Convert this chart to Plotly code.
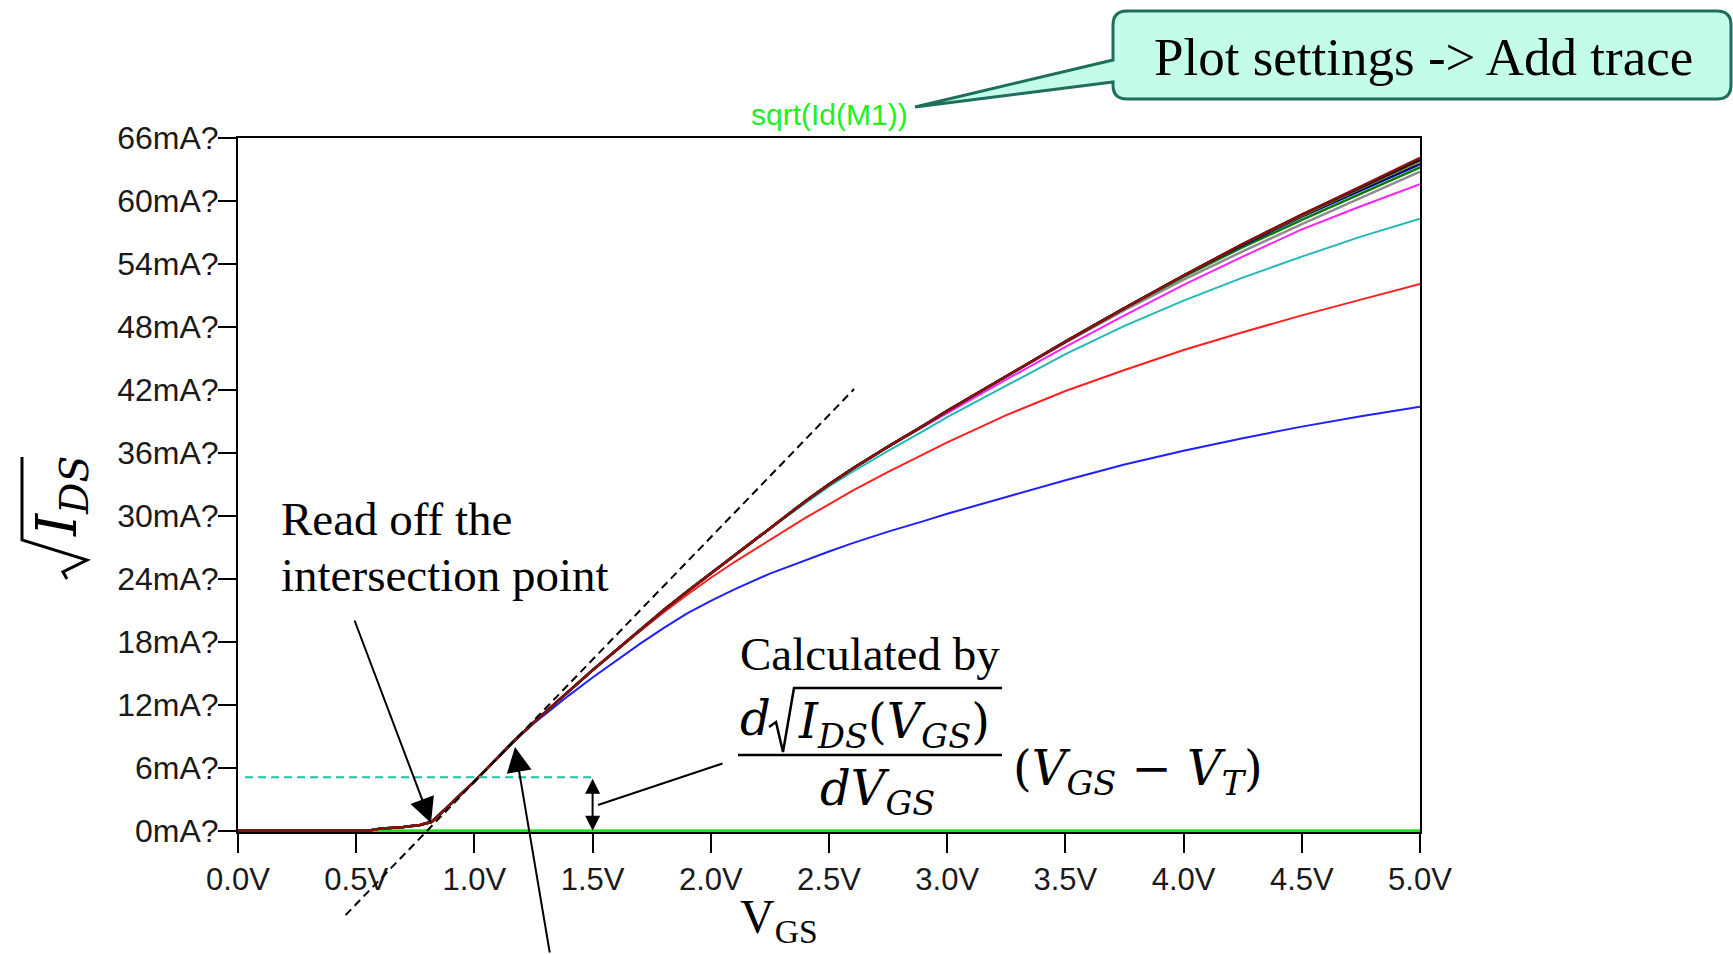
import plotly.graph_objects as go

# ---------------- data ----------------
vgs = [0.00, 0.55, 0.60, 0.70, 0.77, 0.82, 1.00, 1.10, 1.17, 1.25, 1.30, 1.40, 1.50,
       1.60, 1.70, 1.80, 1.90, 2.00, 2.10, 2.25, 2.40, 2.50, 2.60, 2.75, 2.90, 3.00,
       3.25, 3.50, 3.75, 4.00, 4.25, 4.50, 4.75, 5.00]

sqrt_id_vds_0p0 = [0, 0, 0, 0, 0, 0, 0, 0, 0, 0, 0, 0, 0,
                   0, 0, 0, 0, 0, 0, 0, 0, 0, 0, 0, 0, 0,
                   0, 0, 0, 0, 0, 0, 0, 0]
sqrt_id_vds_0p5 = [0, 0, 0.2, 0.35, 0.55, 0.85, 4.7, 7.0, 8.6, 10.2, 11.1, 12.9, 14.6,
                   16.2, 17.8, 19.3, 20.7, 21.9, 23.0, 24.5, 25.8, 26.6, 27.4, 28.5, 29.5, 30.2,
                   31.8, 33.4, 34.9, 36.2, 37.4, 38.5, 39.5, 40.4]
sqrt_id_vds_1p0 = [0, 0, 0.2, 0.35, 0.55, 0.85, 4.7, 7.0, 8.6, 10.3, 11.3, 13.3, 15.3,
                   17.2, 19.0, 20.8, 22.5, 24.1, 25.6, 27.7, 29.8, 31.1, 32.4, 34.2, 35.9, 37.0,
                   39.6, 41.9, 43.9, 45.8, 47.5, 49.1, 50.6, 52.1]
sqrt_id_vds_1p5 = [0, 0, 0.2, 0.35, 0.55, 0.85, 4.7, 7.0, 8.6, 10.3, 11.3, 13.3, 15.3,
                   17.2, 19.1, 21.0, 22.8, 24.5, 26.2, 28.8, 31.2, 32.8, 34.2, 36.2, 38.1, 39.4,
                   42.4, 45.4, 48.1, 50.5, 52.7, 54.7, 56.6, 58.3]
sqrt_id_vds_2p0 = [0, 0, 0.2, 0.35, 0.55, 0.85, 4.7, 7.0, 8.6, 10.3, 11.3, 13.3, 15.3,
                   17.2, 19.1, 21.0, 22.8, 24.5, 26.2, 28.8, 31.4, 33.0, 34.5, 36.6, 38.5, 39.8,
                   43.0, 46.1, 49.1, 52.0, 54.7, 57.3, 59.5, 61.6]
sqrt_id_vds_2p5 = [0, 0, 0.2, 0.35, 0.55, 0.85, 4.7, 7.0, 8.6, 10.3, 11.3, 13.3, 15.3,
                   17.2, 19.1, 21.0, 22.8, 24.5, 26.2, 28.8, 31.4, 33.0, 34.5, 36.6, 38.6, 40.0,
                   43.3, 46.5, 49.6, 52.5, 55.2, 57.8, 60.3, 62.8]
sqrt_id_vds_3p0 = [0, 0, 0.2, 0.35, 0.55, 0.85, 4.7, 7.0, 8.6, 10.3, 11.3, 13.3, 15.3,
                   17.2, 19.1, 21.0, 22.8, 24.5, 26.2, 28.8, 31.4, 33.0, 34.5, 36.6, 38.6, 40.0,
                   43.3, 46.6, 49.8, 52.8, 55.6, 58.2, 60.7, 63.2]
sqrt_id_vds_3p5 = [0, 0, 0.2, 0.35, 0.55, 0.85, 4.7, 7.0, 8.6, 10.3, 11.3, 13.3, 15.3,
                   17.2, 19.1, 21.0, 22.8, 24.5, 26.2, 28.8, 31.4, 33.0, 34.5, 36.6, 38.6, 40.0,
                   43.3, 46.6, 49.8, 52.9, 55.8, 58.5, 61.0, 63.5]
sqrt_id_vds_4p0 = [0, 0, 0.2, 0.35, 0.55, 0.85, 4.7, 7.0, 8.6, 10.3, 11.3, 13.3, 15.3,
                   17.2, 19.1, 21.0, 22.8, 24.5, 26.2, 28.8, 31.4, 33.0, 34.5, 36.6, 38.6, 40.0,
                   43.3, 46.6, 49.8, 52.9, 55.9, 58.6, 61.2, 63.8]
sqrt_id_vds_4p5 = [0, 0, 0.2, 0.35, 0.55, 0.85, 4.7, 7.0, 8.6, 10.3, 11.3, 13.3, 15.3,
                   17.2, 19.1, 21.0, 22.8, 24.5, 26.2, 28.8, 31.4, 33.0, 34.5, 36.6, 38.6, 40.0,
                   43.3, 46.6, 49.8, 52.9, 55.9, 58.7, 61.3, 63.95]
sqrt_id_vds_5p0 = [0, 0, 0.2, 0.35, 0.55, 0.85, 4.7, 7.0, 8.6, 10.3, 11.3, 13.3, 15.3,
                   17.2, 19.1, 21.0, 22.8, 24.5, 26.2, 28.8, 31.4, 33.0, 34.5, 36.6, 38.6, 40.0,
                   43.3, 46.6, 49.8, 52.9, 55.9, 58.7, 61.4, 64.1]

series_names = ["Vds=0.0", "Vds=0.5", "Vds=1.0", "Vds=1.5", "Vds=2.0", "Vds=2.5",
                "Vds=3.0", "Vds=3.5", "Vds=4.0", "Vds=4.5", "Vds=5.0"]
series_values = [sqrt_id_vds_0p0, sqrt_id_vds_0p5, sqrt_id_vds_1p0, sqrt_id_vds_1p5,
                 sqrt_id_vds_2p0, sqrt_id_vds_2p5, sqrt_id_vds_3p0, sqrt_id_vds_3p5,
                 sqrt_id_vds_4p0, sqrt_id_vds_4p5, sqrt_id_vds_5p0]

x_tick_vals = [0.0, 0.5, 1.0, 1.5, 2.0, 2.5, 3.0, 3.5, 4.0, 4.5, 5.0]
x_tick_text = ["0.0V", "0.5V", "1.0V", "1.5V", "2.0V", "2.5V", "3.0V", "3.5V", "4.0V", "4.5V", "5.0V"]
y_tick_vals = [0, 6, 12, 18, 24, 30, 36, 42, 48, 54, 60, 66]
y_tick_text = ["0mA?", "6mA?", "12mA?", "18mA?", "24mA?", "30mA?", "36mA?", "42mA?",
               "48mA?", "54mA?", "60mA?", "66mA?"]

VT = 0.80             # V
TANGENT_SLOPE = 23.3  # mA per V
tangent_v = [0.455, 2.606]
level_ref = 5.1       # mA, dashed level at VGS = 1.5 V
level_v = [0.03, 1.5]

# ---------------- styling ----------------
colors = ["#1ee61e", "#2020ff", "#ff2020", "#20b8b8", "#ff20ff", "#8c8c8c",
          "#007a00", "#000090", "#7a7a00", "#101010", "#8a1010"]
widths = [3, 2, 2, 2, 2, 2.5, 2.5, 2.5, 2.5, 2.5, 2.5]

W, H = 1733, 954
L, R, T, B = 238, 313, 138, 122
PW = W - L - R
PH = H - T - B
XR = [0, 5]
YR = [-0.12, 66]


def px(x):
    return (x - L) / PW


def py(y):
    return (H - B - y) / PH


def dx(v):
    return (v - XR[0]) / (XR[1] - XR[0])


def dy(i):
    return (i - YR[0]) / (YR[1] - YR[0])


fig = go.Figure()
for name, vals, col, w in zip(series_names, series_values, colors, widths):
    fig.add_trace(go.Scatter(x=vgs, y=vals, mode="lines", name=name,
                             line=dict(color=col, width=w), hoverinfo="skip"))

serif = "Liberation Serif"
math = "DejaVu Serif"

shapes = []
# dashed level line
shapes.append(dict(type="line", xref="x", yref="y", x0=level_v[0], x1=level_v[1],
                   y0=level_ref, y1=level_ref,
                   line=dict(color="#20c0a0", width=2, dash="8px,5px")))
# tangent line (extends outside plot area -> paper coords)
tv0, tv1 = tangent_v
ti0 = TANGENT_SLOPE * (tv0 - VT)
ti1 = TANGENT_SLOPE * (tv1 - VT)
shapes.append(dict(type="line", xref="paper", yref="paper",
                   x0=dx(tv0), y0=dy(ti0), x1=dx(tv1), y1=dy(ti1),
                   line=dict(color="black", width=2, dash="8px,5px")))
# fraction bar
shapes.append(dict(type="line", xref="paper", yref="paper",
                   x0=px(738), x1=px(1002), y0=py(755), y1=py(755),
                   line=dict(color="black", width=2.5)))


def path_of(pts):
    s = "M {:.5f},{:.5f}".format(px(pts[0][0]), py(pts[0][1]))
    for p in pts[1:]:
        s += " L {:.5f},{:.5f}".format(px(p[0]), py(p[1]))
    return s


# radical in numerator
shapes.append(dict(type="path", xref="paper", yref="paper",
                   path=path_of([(769, 727), (776, 722), (783, 752), (794, 688), (1002, 688)]),
                   line=dict(color="black", width=2.5)))
# radical of y-axis label (rotated)
shapes.append(dict(type="path", xref="paper", yref="paper",
                   path=path_of([(22, 457), (22, 540), (87, 560), (63, 572), (67, 579)]),
                   line=dict(color="black", width=3)))

# callout box
x1, x2, y1, y2, r = 1113, 1731, 11, 99, 14


def P(x, y):
    return "{:.5f},{:.5f}".format(px(x), py(y))


callout = ("M " + P(x1 + r, y1) + " L " + P(x2 - r, y1) + " Q " + P(x2, y1) + " " + P(x2, y1 + r) +
           " L " + P(x2, y2 - r) + " Q " + P(x2, y2) + " " + P(x2 - r, y2) +
           " L " + P(x1 + r, y2) + " Q " + P(x1, y2) + " " + P(x1, y2 - r) +
           " L " + P(x1, 82) + " L " + P(915, 107) + " L " + P(x1, 60) +
           " L " + P(x1, y1 + r) + " Q " + P(x1, y1) + " " + P(x1 + r, y1) + " Z")
shapes.append(dict(type="path", xref="paper", yref="paper", path=callout,
                   fillcolor="#c4fcea", line=dict(color="#1e6e5c", width=3)))

ann = []


def text(t, x, y, size, family=serif, xanchor="left", color="black", angle=0):
    ann.append(dict(text=t, x=px(x), y=py(y), xref="paper", yref="paper", showarrow=False,
                    xanchor=xanchor, yanchor="middle", textangle=angle,
                    font=dict(family=family, size=size, color=color)))


text("Read off the", 279, 519, 47)
text("intersection point", 279, 575, 47)
text("Calculated by", 738, 654, 47)
text("<i>d</i>", 738, 718, 48, family=math)
text("<i>I</i><sub><i>DS</i></sub>(<i>V</i><sub><i>GS</i></sub>)", 796, 724, 48, family=math)
text("<i>dV</i><sub><i>GS</i></sub>", 818, 791, 48, family=math)
text("(<i>V</i><sub><i>GS</i></sub> \u2212 <i>V</i><sub><i>T</i></sub>)", 1011, 771, 48, family=math)
text("V<sub>GS</sub>", 738, 920, 48)
text("Plot settings -&gt; Add trace", 1423, 57, 53, xanchor="center")
text("sqrt(Id(M1))", 829, 114, 30, family="Liberation Sans", xanchor="center", color="#22ee22")
text("<i>I</i><sub><i>DS</i></sub>", 60, 497, 56, family=math, xanchor="center", angle=-90)


def to_v(xp):
    return (xp - L) / PW * (XR[1] - XR[0]) + XR[0]


def to_i(yp):
    return (H - B - yp) / PH * (YR[1] - YR[0]) + YR[0]


# arrows
ann.append(dict(x=to_v(431), y=to_i(823), xref="x", yref="y", text="", showarrow=True,
                ax=-77, ay=-204, arrowhead=2, arrowsize=2.5, arrowwidth=2, arrowcolor="black"))
ann.append(dict(x=to_v(515), y=to_i(747), xref="x", yref="y", text="", showarrow=True,
                ax=35, ay=215, arrowhead=2, arrowsize=2.5, arrowwidth=2, arrowcolor="black"))
ann.append(dict(x=to_v(598), y=to_i(805), xref="x", yref="y", text="", showarrow=True,
                ax=126, ay=-42, arrowhead=0, arrowwidth=2, arrowcolor="black"))
ann.append(dict(x=level_v[1], y=0, xref="x", yref="y", ax=level_v[1], ay=level_ref,
                axref="x", ayref="y", text="", showarrow=True, arrowside="end+start",
                arrowhead=2, startarrowhead=2, arrowsize=1.5, startarrowsize=1.5,
                arrowwidth=2, arrowcolor="black"))

axis_common = dict(ticks="outside", tickwidth=2, tickcolor="black", showline=True,
                   linecolor="black", linewidth=2, mirror=True, showgrid=False,
                   zeroline=False, layer="below traces")

fig.update_layout(
    width=W, height=H, margin=dict(l=L, r=R, t=T, b=B, pad=0),
    paper_bgcolor="white", plot_bgcolor="white", showlegend=False,
    xaxis=dict(range=XR, tickvals=x_tick_vals, ticktext=x_tick_text, ticklen=19,
               tickfont=dict(family="Liberation Sans", size=31, color="#1a1a1a"), **axis_common),
    yaxis=dict(range=YR, tickvals=y_tick_vals, ticktext=y_tick_text, ticklen=18,
               ticklabelstandoff=-7,
               tickfont=dict(family="Liberation Sans", size=32, color="#1a1a1a"), **axis_common),
    shapes=shapes, annotations=ann,
)

fig.write_html("out.html", config={"displayModeBar": False},
               post_script="document.body.style.margin='0px';document.body.style.overflow='hidden';")
